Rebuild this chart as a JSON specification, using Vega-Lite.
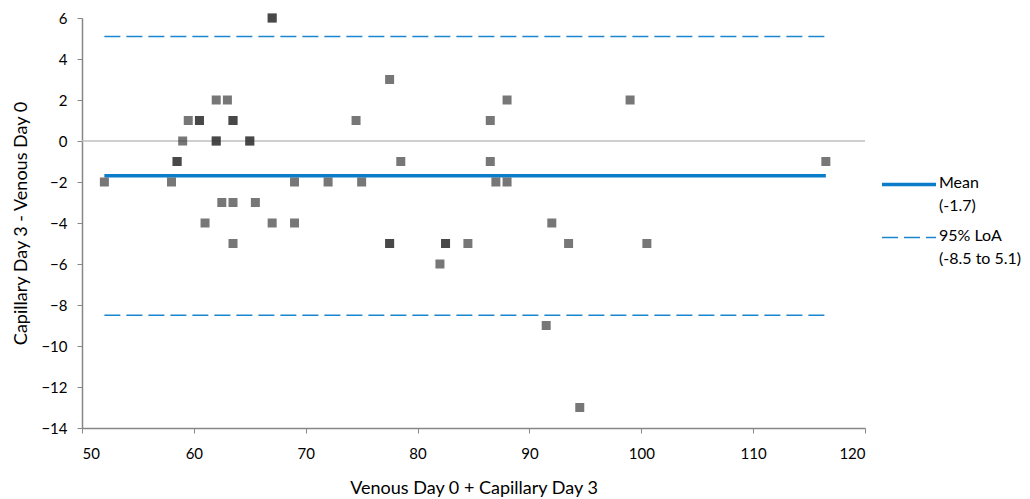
{
  "$schema": "https://vega.github.io/schema/vega-lite/v6.json",
  "width": 783,
  "height": 410,
  "autosize": {"type": "none"},
  "padding": {"left": 82, "top": 18, "right": 165, "bottom": 71},
  "background": "white",
  "config": {
    "view": {"stroke": null},
    "font": "Lato",
    "axis": {"labelFont": "Lato", "titleFont": "Lato", "labelColor": "#000000", "titleColor": "#000000", "titleFontWeight": "normal", "grid": false, "domainColor": "#868686", "tickColor": "#868686", "domainWidth": 1.5, "tickSize": 5, "labelFontSize": 15, "titleFontSize": 18}
  },
  "datasets": {
    "points": [
      {"avg": 52, "diff": -2}, {"avg": 58, "diff": -2}, {"avg": 58.5, "diff": -1}, {"avg": 58.5, "diff": -1},
      {"avg": 59, "diff": 0}, {"avg": 59.5, "diff": 1}, {"avg": 60.5, "diff": 1}, {"avg": 60.5, "diff": 1},
      {"avg": 61, "diff": -4}, {"avg": 62, "diff": 2}, {"avg": 62, "diff": 0}, {"avg": 62, "diff": 0},
      {"avg": 62.5, "diff": -3}, {"avg": 63, "diff": 2}, {"avg": 63.5, "diff": 1}, {"avg": 63.5, "diff": 1},
      {"avg": 63.5, "diff": -3}, {"avg": 63.5, "diff": -5}, {"avg": 65, "diff": 0}, {"avg": 65, "diff": 0},
      {"avg": 65.5, "diff": -3}, {"avg": 67, "diff": 6}, {"avg": 67, "diff": 6}, {"avg": 67, "diff": -4},
      {"avg": 69, "diff": -2}, {"avg": 69, "diff": -4}, {"avg": 72, "diff": -2}, {"avg": 74.5, "diff": 1},
      {"avg": 75, "diff": -2}, {"avg": 77.5, "diff": 3}, {"avg": 77.5, "diff": -5}, {"avg": 77.5, "diff": -5},
      {"avg": 78.5, "diff": -1}, {"avg": 82, "diff": -6}, {"avg": 82.5, "diff": -5}, {"avg": 82.5, "diff": -5},
      {"avg": 84.5, "diff": -5}, {"avg": 86.5, "diff": 1}, {"avg": 86.5, "diff": -1}, {"avg": 87, "diff": -2},
      {"avg": 88, "diff": 2}, {"avg": 88, "diff": -2}, {"avg": 91.5, "diff": -9}, {"avg": 92, "diff": -4},
      {"avg": 93.5, "diff": -5}, {"avg": 94.5, "diff": -13}, {"avg": 99, "diff": 2}, {"avg": 100.5, "diff": -5},
      {"avg": 116.5, "diff": -1}
    ],
    "lines": [
      {"series": "Mean|(-1.7)", "y": -1.7, "x1": 52, "x2": 116.5},
      {"series": "95% LoA|(-8.5 to 5.1)", "y": -8.5, "x1": 52, "x2": 116.5},
      {"series": "95% LoA|(-8.5 to 5.1)", "y": 5.1, "x1": 52, "x2": 116.5}
    ],
    "zero": [{"y": 0, "x1": 50, "x2": 120}]
  },
  "layer": [
    {
      "data": {"name": "zero"},
      "mark": {"type": "rule", "color": "#bfbfbf", "strokeWidth": 1.5},
      "encoding": {
        "y": {"field": "y", "type": "quantitative"},
        "x": {"field": "x1", "type": "quantitative"},
        "x2": {"field": "x2"}
      }
    },
    {
      "data": {"name": "lines"},
      "mark": {"type": "rule"},
      "encoding": {
        "y": {"field": "y", "type": "quantitative"},
        "x": {"field": "x1", "type": "quantitative"},
        "x2": {"field": "x2"},
        "color": {"field": "series", "type": "nominal", "scale": {"domain": ["Mean|(-1.7)", "95% LoA|(-8.5 to 5.1)"], "range": ["#0a7cc9", "#1a86d0"]},
          "legend": {"title": null, "orient": "none", "legendX": 798, "legendY": 143, "labelExpr": "split(datum.label, '|')", "labelFontSize": 16, "labelFont": "Lato", "labelColor": "#000000", "symbolType": "stroke", "symbolSize": 2916, "rowPadding": 0, "clipHeight": 47, "labelOffset": 1, "labelBaseline": "top",
            "encode": {"labels": {"update": {"lineHeight": {"value": 23.5}, "dy": {"value": -10}}}}}},
        "strokeDash": {"field": "series", "type": "nominal", "scale": {"domain": ["Mean|(-1.7)", "95% LoA|(-8.5 to 5.1)"], "range": [[1, 0], [16, 6]]}},
        "strokeWidth": {"field": "series", "type": "ordinal", "scale": {"domain": ["Mean|(-1.7)", "95% LoA|(-8.5 to 5.1)"], "range": [3.5, 1.6]}}
      }
    },
    {
      "data": {"name": "points"},
      "mark": {"type": "point", "shape": "square", "filled": true, "size": 81, "color": "#313131", "opacity": 0.66},
      "encoding": {
        "x": {"field": "avg", "type": "quantitative", "title": "Venous Day 0 + Capillary Day 3", "scale": {"domain": [50, 120], "nice": false, "zero": false}, "axis": {"values": [50, 60, 70, 80, 90, 100, 110, 120], "labelPadding": 13, "titlePadding": 18}},
        "y": {"field": "diff", "type": "quantitative", "title": "Capillary Day 3 - Venous Day 0", "scale": {"domain": [-14, 6], "nice": false, "zero": false}, "axis": {"values": [-14, -12, -10, -8, -6, -4, -2, 0, 2, 4, 6], "labelPadding": 10, "titlePadding": 10}}
      }
    }
  ]
}
